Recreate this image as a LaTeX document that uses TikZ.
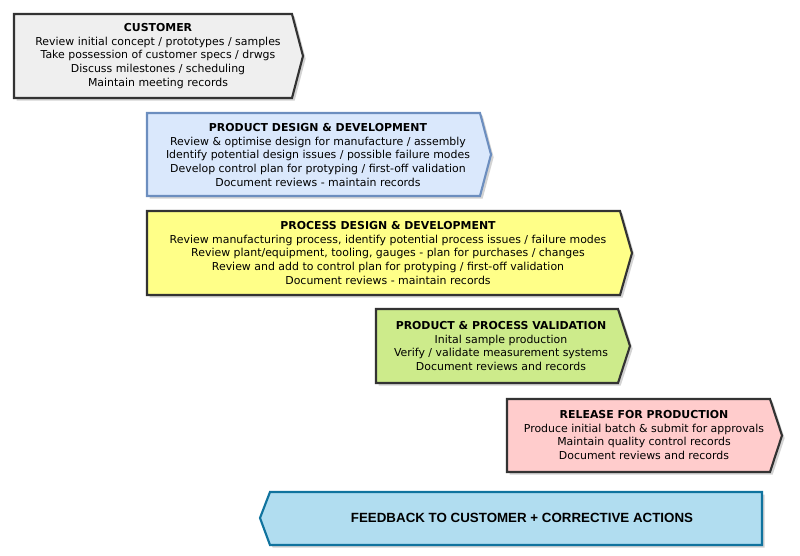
\documentclass[tikz,border=0pt]{standalone}
\usepackage{fontspec}
\setmainfont{DejaVu Sans}
\newfontfamily\arialf{Liberation Sans}
\usetikzlibrary{shadows}
\definecolor{cusf}{HTML}{EFEFEF}
\definecolor{pdf}{HTML}{DAE8FC}
\definecolor{pdb}{HTML}{6C8EBF}
\definecolor{prf}{HTML}{FFFF88}
\definecolor{vaf}{HTML}{CDEB8B}
\definecolor{ref}{HTML}{FFCCCC}
\definecolor{fbf}{HTML}{B1DDF0}
\definecolor{fbb}{HTML}{10739E}
\definecolor{dk}{HTML}{333333}
\tikzset{x=0.75pt,y=-0.75pt,
 arr/.style={line width=1.6pt,line join=miter,drop shadow={shadow xshift=2pt,shadow yshift=-2pt,opacity=0.35}},
 txt/.style={align=center,font=\fontsize{8.2}{10.4}\selectfont,inner sep=0pt}}
\newcommand{\rarrow}[7]{% x1 y1 x2 tipx y2 fill draw
 \path[arr,fill=#6,draw=#7] (#1,#2) -- (#3,#2) -- (#4,{(#2+#5)/2}) -- (#3,#5) -- (#1,#5) -- cycle;}
\begin{document}
\begin{tikzpicture}
\useasboundingbox (0,0) rectangle (800,556);
\rarrow{14}{14}{292}{303}{98}{cusf}{dk}
\node[txt] (cus) at (158,56) {\textbf{CUSTOMER}\\Review initial concept / prototypes / samples\\Take possession of customer specs / drwgs\\Discuss milestones / scheduling\\Maintain meeting records};
\rarrow{147}{113}{480}{491}{196}{pdf}{pdb}
\node[txt] (pd) at (318,155) {\textbf{PRODUCT DESIGN \& DEVELOPMENT}\\Review \& optimise design for manufacture / assembly\\Identify potential design issues / possible failure modes\\Develop control plan for protyping / first-off validation\\Document reviews - maintain records};
\rarrow{147}{211}{620}{632}{295}{prf}{dk}
\node[txt] (pr) at (388,253) {\textbf{PROCESS DESIGN \& DEVELOPMENT}\\Review manufacturing process, identify potential process issues / failure modes\\Review plant/equipment, tooling, gauges - plan for purchases / changes\\Review and add to control plan for protyping / first-off validation\\Document reviews - maintain records};
\rarrow{376}{309}{618}{630}{383}{vaf}{dk}
\node[txt] (va) at (501,346) {\textbf{PRODUCT \& PROCESS VALIDATION}\\Inital sample production\\Verify / validate measurement systems\\Document reviews and records};
\rarrow{507}{399}{770}{782}{472}{ref}{dk}
\node[txt] (re) at (644,435) {\textbf{RELEASE FOR PRODUCTION}\\Produce initial batch \& submit for approvals\\Maintain quality control records\\Document reviews and records};
\path[arr,fill=fbf,draw=fbb] (762,492) -- (270,492) -- (260,518) -- (270,545) -- (762,545) -- cycle;
\node[txt,font=\arialf\bfseries\fontsize{10}{12}\selectfont] (fb) at (522,518) {FEEDBACK TO CUSTOMER + CORRECTIVE ACTIONS};
\end{tikzpicture}
\end{document}
